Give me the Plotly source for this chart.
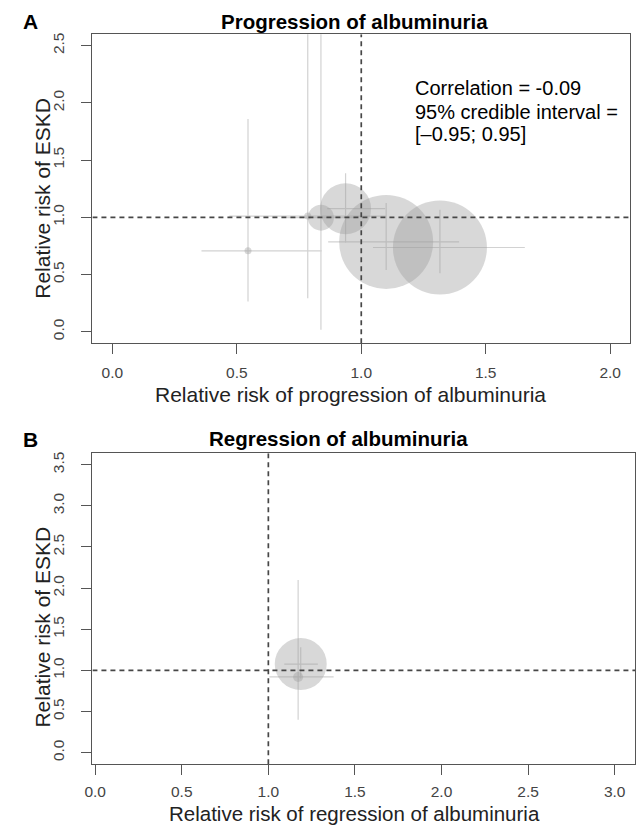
import plotly.graph_objects as go

# ---------------- data ----------------
# Panel A: progression of albuminuria
prog_rr_alb = [0.545, 0.785, 0.838, 0.937, 1.100, 1.316]
prog_rr_alb_lo = [0.358, 0.470, 0.700, 0.863, 0.867, 1.047]
prog_rr_alb_hi = [0.841, 1.100, 0.980, 1.096, 1.393, 1.657]
prog_rr_eskd = [0.707, 1.011, 0.997, 1.075, 0.785, 0.736]
prog_rr_eskd_lo = [0.264, 0.293, 0.017, 0.780, 0.539, 0.510]
prog_rr_eskd_hi = [1.858, 3.000, 3.000, 1.385, 1.125, 1.067]
prog_weight = [0.2, 0.2, 2.75, 10.6, 36.0, 36.0]

# Panel B: regression of albuminuria
regr_rr_alb = [1.187, 1.172]
regr_rr_alb_lo = [1.092, 1.006]
regr_rr_alb_hi = [1.286, 1.377]
regr_rr_eskd = [1.077, 0.920]
regr_rr_eskd_lo = [0.900, 0.400]
regr_rr_eskd_hi = [1.280, 2.100]
regr_weight = [11.0, 0.41]

xticks_a = [0.0, 0.5, 1.0, 1.5, 2.0]
yticks_a = [0.0, 0.5, 1.0, 1.5, 2.0, 2.5]
xticks_b = [0.0, 0.5, 1.0, 1.5, 2.0, 2.5, 3.0]
yticks_b = [0.0, 0.5, 1.0, 1.5, 2.0, 2.5, 3.0, 3.5]

correlation_text = ["Correlation = -0.09", "95% credible interval =", "[\u20130.95; 0.95]"]

# ---------------- styling ----------------
W, H = 638, 825
BUBBLE = "rgba(158,158,158,0.57)"
CI_COL = "#d2d2d2"
BOX_COL = "#555555"
FONT = "Liberation Sans, Arial, Helvetica, sans-serif"
SIZE_K = 15.67  # px diameter per sqrt(weight)


def diam(ws):
    return [SIZE_K * (w ** 0.5) for w in ws]


def px_x(p):
    return p / W


def px_y(p):
    return 1 - p / H


fig = go.Figure()


def add_panel(x, xlo, xhi, y, ylo, yhi, w, xa, ya):
    fig.add_trace(go.Scatter(
        x=x, y=y, mode="markers", xaxis=xa, yaxis=ya, showlegend=False,
        marker=dict(size=diam(w), sizemode="diameter", color=BUBBLE, line=dict(width=0)),
        error_x=dict(type="data", symmetric=False,
                     array=[h - v for h, v in zip(xhi, x)],
                     arrayminus=[v - l for l, v in zip(xlo, x)],
                     width=0, color=CI_COL, thickness=1.2),
        error_y=dict(type="data", symmetric=False,
                     array=[h - v for h, v in zip(yhi, y)],
                     arrayminus=[v - l for l, v in zip(ylo, y)],
                     width=0, color=CI_COL, thickness=1.2),
        cliponaxis=True,
    ))


add_panel(prog_rr_alb, prog_rr_alb_lo, prog_rr_alb_hi, prog_rr_eskd,
          prog_rr_eskd_lo, prog_rr_eskd_hi, prog_weight, "x", "y")
add_panel(regr_rr_alb, regr_rr_alb_lo, regr_rr_alb_hi, regr_rr_eskd,
          regr_rr_eskd_lo, regr_rr_eskd_hi, regr_weight, "x2", "y2")

xr_a, yr_a = [-0.08, 2.08], [-0.1, 2.6]
xr_b, yr_b = [-0.016, 3.12], [-0.14, 3.64]


def axis(domain, rng, vals, anchor, is_y, standoff):
    d = dict(domain=domain, range=rng, anchor=anchor, tickvals=vals,
             ticktext=[f"{v:.1f}" for v in vals], showgrid=False, zeroline=False,
             showline=True, mirror=True, linecolor=BOX_COL, linewidth=1.2,
             ticks="outside", ticklen=10, tickwidth=1.2, tickcolor=BOX_COL,
             tickfont=dict(family=FONT, size=15.5, color="#444444"), fixedrange=True,
             ticklabelstandoff=standoff)
    if is_y:
        d["tickangle"] = -90
    return d


fig.update_layout(
    width=W, height=H, margin=dict(l=0, r=0, t=0, b=0),
    plot_bgcolor="white", paper_bgcolor="white",
    xaxis=axis([px_x(85.5), px_x(630)], xr_a, xticks_a, "y", False, 5),
    yaxis=axis([px_y(342), px_y(32.3)], yr_a, yticks_a, "x", True, 11),
    xaxis2=axis([px_x(85.5), px_x(635.4)], xr_b, xticks_b, "y2", False, 3),
    yaxis2=axis([px_y(764), px_y(452.3)], yr_b, yticks_b, "x2", True, 11),
)

# reference dashed lines at RR = 1
dash = dict(color="#474747", width=1.7, dash="5px,4px")
for xa, ya, xr, yr in [("x", "y", xr_a, yr_a), ("x2", "y2", xr_b, yr_b)]:
    fig.add_shape(type="line", xref=xa, yref=ya, x0=1, x1=1, y0=yr[0], y1=yr[1], line=dash)
    fig.add_shape(type="line", xref=xa, yref=ya, x0=xr[0], x1=xr[1], y0=1, y1=1, line=dash)


def text(s, x, y, size, bold=False, xanchor="center", color="black", angle=0):
    fig.add_annotation(text=f"<b>{s}</b>" if bold else s, xref="paper", yref="paper",
                       x=px_x(x), y=px_y(y), xanchor=xanchor, yanchor="middle",
                       showarrow=False, textangle=angle,
                       font=dict(family=FONT, size=size, color=color))


# titles and panel letters
text("A", 22.5, 20, 21, bold=True)
text("Progression of albuminuria", 351, 20, 20.5, bold=True)
text("B", 23, 438.5, 21, bold=True)
text("Regression of albuminuria", 335, 438, 20.5, bold=True)

# axis titles
text("Relative risk of progression of albuminuria", 346.6, 393, 21, color="#222222")
text("Relative risk of ESKD", 35, 196.7, 21, color="#222222", angle=-90)
text("Relative risk of regression of albuminuria", 350.7, 813, 20.5, color="#222222")
text("Relative risk of ESKD", 35, 626.5, 21, color="#222222", angle=-90)

# correlation annotation
for s, yy in zip(correlation_text, [86.7, 110, 132.5]):
    text(s, 410, yy, 20, xanchor="left")

fig.write_html("out.html")
